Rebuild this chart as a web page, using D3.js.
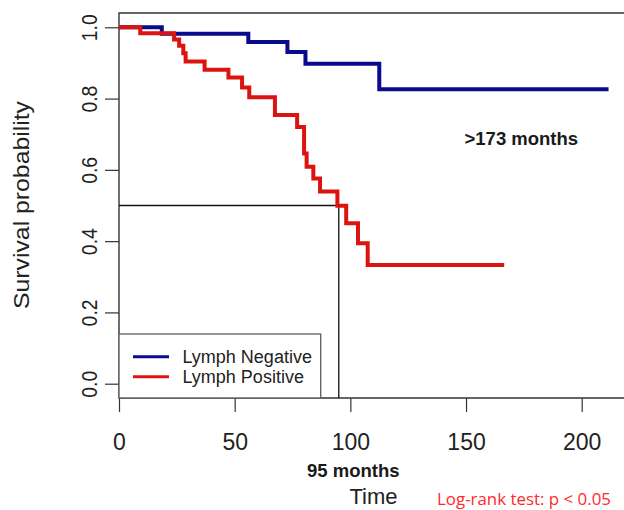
<!DOCTYPE html>
<html><head><meta charset="utf-8">
<script src="https://cdn.jsdelivr.net/npm/d3@7"></script>
<style>html,body{margin:0;padding:0;background:#fff;}svg{display:block;}</style>
</head><body>
<svg id="chart" width="624" height="510"></svg>
<script>
// Data
const negTimes = [0, 18.5, 55.9, 72.8, 80.6, 112.5, 211.6];
const negSurv  = [1, 0.982, 0.959, 0.931, 0.898, 0.826, 0.826];
const posTimes = [0, 9.2, 23.8, 26.0, 27.8, 28.8, 37.0, 47.3, 53.2, 56.3, 67.4, 77.0, 80.0, 81.1, 84.0, 86.9, 94.4, 98.2, 103.3, 107.5, 166.5];
const posSurv  = [1, 0.983, 0.966, 0.948, 0.927, 0.904, 0.881, 0.859, 0.831, 0.804, 0.754, 0.720, 0.646, 0.609, 0.576, 0.539, 0.499, 0.450, 0.394, 0.333, 0.333];
const xTicks = [0, 50, 100, 150, 200];
const yTicks = [0, 0.2, 0.4, 0.6, 0.8, 1.0];
const seriesNames = ["Lymph Negative", "Lymph Positive"];
const seriesColors = ["#0a0a8c", "#dc1410"];
const medianTime = 95, medianSurv = 0.5;

(function () {
const svg = d3.select("#chart");
const x = d3.scaleLinear().domain([0, 200]).range([119, 581.7]);
const y = d3.scaleLinear().domain([0, 1]).range([383.7, 27.3]);
const pTop = y(1.04), pBottom = y(-0.04), pLeft = x(0), pRight = 640;

svg.append("rect").attr("width", 624).attr("height", 510).attr("fill", "#fff");

// plot frame
svg.append("path")
  .attr("d", `M${pRight},${pTop}H${pLeft}V${pBottom}H${pRight}`)
  .attr("fill", "none").attr("stroke", "#333").attr("stroke-width", 1.4);

// y axis ticks
const yAxis = d3.axisLeft(y).tickValues(yTicks).tickSize(14).tickFormat(d3.format(".1f"));
const gy = svg.append("g").attr("transform", `translate(${pLeft},0)`).call(yAxis);
gy.select(".domain").remove();
gy.selectAll(".tick line").attr("stroke", "#333").attr("stroke-width", 1.2);
gy.selectAll(".tick text")
  .attr("x", null).attr("dy", null)
  .attr("transform", "translate(-22,0) rotate(-90)")
  .attr("text-anchor", "middle").attr("y", 0)
  .attr("font-family", "Liberation Sans, Arial, sans-serif")
  .attr("font-size", 22).attr("fill", "#222")
  .attr("textLength", 27).attr("lengthAdjust", "spacingAndGlyphs");

// x axis ticks
const xAxis = d3.axisBottom(x).tickValues(xTicks).tickSize(14).tickPadding(0).tickFormat(d3.format("d"));
const gx = svg.append("g").attr("transform", `translate(0,${pBottom})`).call(xAxis);
gx.select(".domain").remove();
gx.selectAll(".tick line").attr("stroke", "#333").attr("stroke-width", 1.2);
gx.selectAll(".tick text")
  .attr("y", 52).attr("dy", null)
  .attr("font-family", "Liberation Sans, Arial, sans-serif")
  .attr("font-size", 23).attr("fill", "#222");

// axis titles
svg.append("text")
  .attr("transform", `translate(29,205) rotate(-90)`)
  .attr("text-anchor", "middle")
  .attr("font-family", "Liberation Sans, Arial, sans-serif")
  .attr("font-size", 22).attr("fill", "#222")
  .attr("textLength", 208).attr("lengthAdjust", "spacingAndGlyphs")
  .text("Survival probability");
svg.append("text")
  .attr("x", 373.5).attr("y", 504)
  .attr("text-anchor", "middle")
  .attr("font-family", "Liberation Sans, Arial, sans-serif")
  .attr("font-size", 22).attr("fill", "#222")
  .text("Time");

// median lines
svg.append("path")
  .attr("d", `M${pLeft},${y(medianSurv)}H${x(medianTime)}V${pBottom}`)
  .attr("fill", "none").attr("stroke", "#111").attr("stroke-width", 1.3);

// curves
const line = d3.line().x(d => x(d[0])).y(d => y(d[1])).curve(d3.curveStepAfter);
const series = [d3.zip(negTimes, negSurv), d3.zip(posTimes, posSurv)];
series.forEach((s, i) => {
  svg.append("path").datum(s)
    .attr("d", line)
    .attr("fill", "none")
    .attr("stroke", seriesColors[i])
    .attr("stroke-width", 4)
    .attr("stroke-linejoin", "miter")
    .attr("stroke-linecap", "butt");
});

// legend
const lg = svg.append("g");
lg.append("rect").attr("x", pLeft).attr("y", 334).attr("width", 201.7).attr("height", pBottom - 334)
  .attr("fill", "#fff").attr("stroke", "#666").attr("stroke-width", 1.4);
seriesNames.forEach((n, i) => {
  const yy = 356.7 + i * 20;
  lg.append("line").attr("x1", 133).attr("x2", 169).attr("y1", yy).attr("y2", yy)
    .attr("stroke", seriesColors[i]).attr("stroke-width", 3);
  lg.append("text").attr("x", 182.5).attr("y", yy + 6.3)
    .attr("font-family", "Liberation Sans, Arial, sans-serif")
    .attr("font-size", 18).attr("fill", "#222").text(n);
});

// annotations
svg.append("text").attr("x", 464.5).attr("y", 145)
  .attr("font-family", "Liberation Sans, Arial, sans-serif")
  .attr("font-weight", "bold").attr("font-size", 18.5).attr("fill", "#1a1a1a")
  .text(">173 months");
svg.append("text").attr("x", 307).attr("y", 476.5)
  .attr("font-family", "Liberation Sans, Arial, sans-serif")
  .attr("font-weight", "bold").attr("font-size", 18.5).attr("fill", "#1a1a1a")
  .text("95 months");
svg.append("text").attr("x", 437).attr("y", 505)
  .attr("font-family", "Open Sans, sans-serif")
  .attr("font-size", 17).attr("fill", "#ff2a2a")
  .attr("textLength", 174).attr("lengthAdjust", "spacingAndGlyphs")
  .text("Log-rank test: p < 0.05");
})();
</script>
</body></html>
